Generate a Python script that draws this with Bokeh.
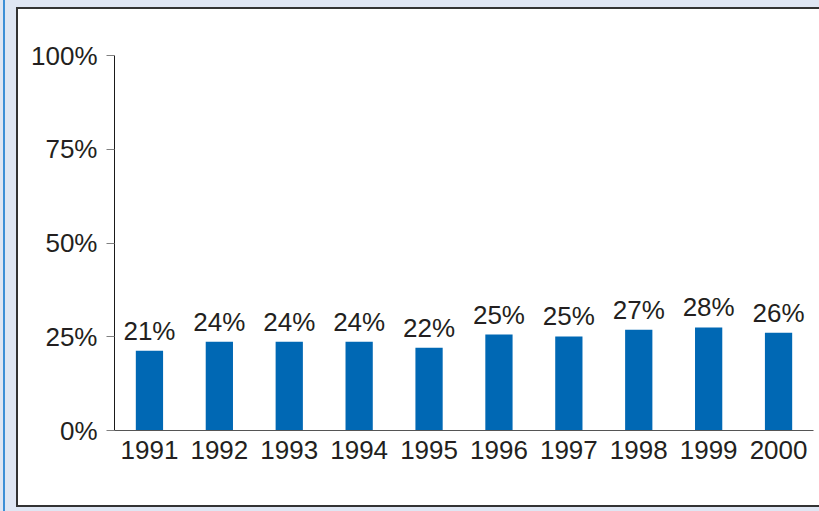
from bokeh.plotting import figure
from bokeh.models import ColumnDataSource, Range1d, FixedTicker, Spacer
from bokeh.layouts import row, column
from bokeh.embed import file_html
from bokeh.resources import INLINE
from bokeh.core.properties import value

# ---- data ----
years = ["1991", "1992", "1993", "1994", "1995", "1996", "1997", "1998", "1999", "2000"]
shares = [21.3, 23.7, 23.7, 23.7, 22.1, 25.6, 25.1, 26.9, 27.5, 26.1]
share_labels = ["21%", "24%", "24%", "24%", "22%", "25%", "25%", "27%", "28%", "26%"]
y_ticks = [0, 25, 50, 75, 100]
y_tick_labels = ["0%", "25%", "50%", "75%", "100%"]

FONT = "Liberation Sans"
TXT = "#231f20"
BAR = "#0068b4"
PANEL_BG = "#dfe6f3"
EDGE = "#333333"

src = ColumnDataSource(dict(year=years, share=shares, label=share_labels))

p = figure(
    width=801, height=496,
    x_range=years, y_range=Range1d(0, 100),
    output_backend="svg", toolbar_location=None,
    background_fill_color=None, border_fill_color="white",
    min_border_left=96, min_border_right=6, min_border_top=46, min_border_bottom=75,
    styles={"background-color": "white"},
)
p.outline_line_color = None
p.grid.visible = False

p.vbar(x="year", top="share", width=0.39, source=src, fill_color=BAR, line_color=None)
p.text(x="year", y="share", text="label", source=src, y_offset=-20,
       text_align="center", text_baseline="alphabetic",
       text_font=value(FONT), text_font_size="26px", text_color=TXT)

ya = p.yaxis[0]
ya.ticker = FixedTicker(ticks=y_ticks)
ya.major_label_overrides = {t: l for t, l in zip(y_ticks, y_tick_labels)}
ya.axis_line_color = "#1a1a1a"
ya.major_tick_line_color = "#808080"
ya.major_tick_out = 8
ya.major_tick_in = 0
ya.minor_tick_line_color = None
ya.major_label_standoff = 9
ya.major_label_text_font = FONT
ya.major_label_text_font_size = "26px"
ya.major_label_text_color = TXT

xa = p.xaxis[0]
xa.axis_line_color = "#555555"
xa.major_tick_line_color = None
xa.major_tick_out = 0
xa.major_tick_in = 0
xa.major_label_standoff = 10
xa.major_label_text_font = FONT
xa.major_label_text_font_size = "26px"
xa.major_label_text_color = TXT

panel = column(
    Spacer(width=803, height=7),
    Spacer(width=803, height=2, styles={"background-color": EDGE}),
    row(Spacer(width=2, height=496, styles={"background-color": EDGE}), p),
    Spacer(width=803, height=2, styles={"background-color": EDGE}),
    Spacer(width=803, height=4),
)

layout = row(
    Spacer(width=3, height=511),
    Spacer(width=2, height=511, styles={"background-color": "#3d8fd6"}),
    Spacer(width=11, height=511),
    panel,
    styles={"position": "absolute", "left": "0px", "top": "0px",
            "background-color": PANEL_BG},
)

open("out.html", "w").write(file_html(layout, INLINE))
